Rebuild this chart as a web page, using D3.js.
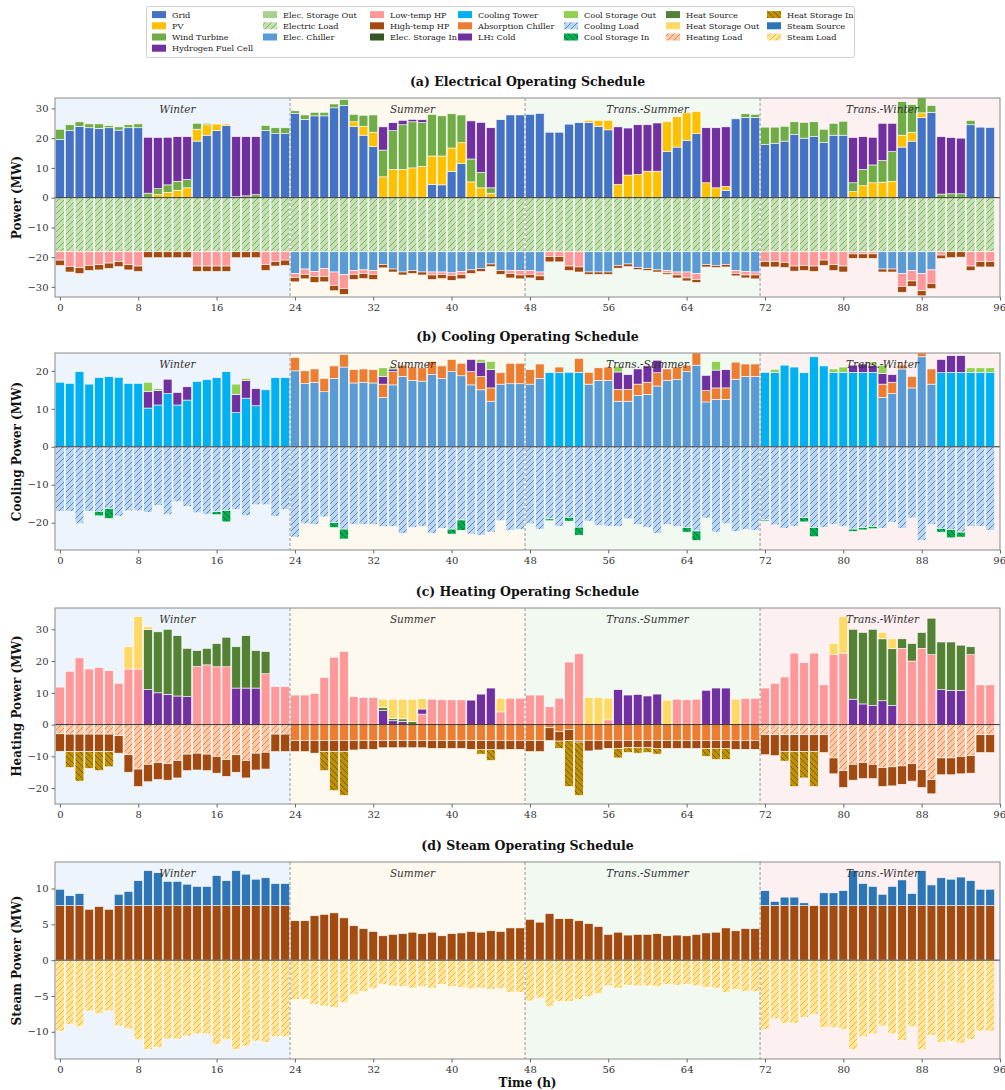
<!DOCTYPE html>
<html>
<head>
<meta charset="utf-8">
<script src="https://cdn.jsdelivr.net/npm/d3@7"></script>
<style>
  body { margin: 0; background: #fff; }
  svg { display: block; }
</style>
</head>
<body>
<svg id="chart" width="1005" height="1090"></svg>
<script>
// ---------------------------------------------------------------
// Hourly operating schedule of a multi-energy system, 4 typical days
// (96 hours: Winter, Summer, Trans.-Summer, Trans.-Winter). MW.
// Each array lists hours 0..95, one season per line.
// ---------------------------------------------------------------
const hours = d3.range(96);
const xTickValues = [0, 8, 16, 24, 32, 40, 48, 56, 64, 72, 80, 88, 96];
const seasonNames = ["Winter", "Summer", "Trans.-Summer", "Trans.-Winter"];
const seasonEdges = [-0.5, 23.5, 47.5, 71.5, 96];
const seasonLabelHour = [12, 36, 60, 84];

// ---- (a) electrical balance ----
const gridPower = [
  19.5,22.5,24.0,23.5,23.3,23.5,22.7,23.5,23.5, 0,0,0,0,0, 19.0,21.0,22.5,24.3, 0,0,0, 22.5,21.5,21.5,
  28.3,26.3,27.5,27.5,30.2,31.0, 24.0,21.0,17.2, 0,0,0,0,0, 4.5,4.3,8.8,11.5, 0,0,0, 26.2,27.8,27.8,
  28.0,28.3,22.0,22.0,24.7,25.2, 25.3,24.0,22.8, 0,0,0,0,0, 15.5,17.0,19.3,21.5, 0,0,2.5, 26.5,27.0,27.0,
  17.8,18.3,19.0,21.2,20.0,20.5,18.5,21.0,21.0, 0,0,0,0,0, 17.0,19.0,27.0,28.7, 0,0,0, 24.5,23.7,23.6
];
const pvPower = [
  0,0,0,0,0,0,0,0,0, 0,1.0,1.8,2.5,3.3, 4.0,3.5,2.3,0.5, 0,0,0, 0,0,0,
  0,0,0,0,0,0, 1.5,3.0,4.8, 7.0,9.5,9.5,10.0,10.5, 9.5,9.7,7.9,7.0, 5.3,3.3,1.5, 0,0,0,
  0,0,0,0,0,0, 0.7,2.0,3.2, 4.5,7.6,7.8,8.9,8.9, 10.0,10.2,9.2,7.5, 5.0,3.3,1.3, 0,0,0,
  0,0,0,0,0,0,0,0,0, 2.0,4.0,5.0,5.2,5.5, 4.0,3.0,1.5,0, 0,0,0, 0,0,0
];
const windPower = [
  3.5,2.0,1.5,1.3,1.5,0.7,1.1,1.0,1.3, 1.5,2.0,2.5,3.0,2.8, 2.0,0.5,0.2,0.2, 0.3,0.6,1.0, 1.8,2.0,2.0,
  0.9,1.5,1.2,1.2,1.3,2.0, 2.5,3.7,5.8, 9.0,13.0,15.0,15.5,14.7, 14.0,13.5,11.5,9.3, 7.7,5.2,1.8, 0,0,0,
  0,0,0,0,0,0, 0,0,0, 0,0,0,0,0, 0,0,0,0, 0,0,0, 0,1.2,1.0,
  5.9,5.4,5.0,4.3,5.3,5.0,4.5,4.0,4.7, 3.0,5.5,6.0,7.3,10.0, 11.3,9.3,5.5,2.3, 1.2,1.3,1.3, 1.5,0,0
];
const fuelCellPower = [
  0,0,0,0,0,0,0,0,0, 18.8,17.2,16.0,15.0,14.4, 0,0,0,0, 20.2,19.9,19.5, 0,0,0,
  0,0,0,0,0,0, 0,0,0, 7.8,2.7,1.5,0.8,1.0, 0,0,0,0, 12.8,16.8,20.2, 0,0,0,
  0,0,0,0,0,0, 0,0,0, 19.3,15.8,16.7,15.6,16.2, 0,0,0,0, 18.5,20.2,20.0, 0,0,0,
  0,0,0,0,0,0,0,0,0, 15.2,11.0,9.3,12.5,9.5, 0,0,0,0, 19.3,18.9,18.7, 0,0,0
];
const elecStorageOut = [
  0,0,0,0,0,0,0,0,0,0,0,0,0,0,0,0,0,0,0,0,0,0,0,0,
  0,0,0,0,0,0,0,0,0,0,0,0,0,0,0,0,0,0,0,0,0,0,0,0,
  0,0,0,0,0,0,0,0,0,0,0,0,0,0,0,0,0,0,0,0,0,0,0,0,
  0,0,0,0,0,0,0,0,0,0,0,0,0,0,0,0,0,0,0,0,0,0,0,0
];
const electricLoad = [
  18.2,18.2,18.2,18.2,18.2,18.2,18.2,18.2,18.2,18.2,18.2,18.2,18.2,18.2,18.2,18.2,18.2,18.2,18.2,18.2,18.2,18.2,18.2,18.2,
  18.2,18.2,18.2,18.2,18.2,18.2,18.2,18.2,18.2,18.2,18.2,18.2,18.2,18.2,18.2,18.2,18.2,18.2,18.2,18.2,18.2,18.2,18.2,18.2,
  18.2,18.2,18.2,18.2,18.2,18.2,18.2,18.2,18.2,18.2,18.2,18.2,18.2,18.2,18.2,18.2,18.2,18.2,18.2,18.2,18.2,18.2,18.2,18.2,
  18.2,18.2,18.2,18.2,18.2,18.2,18.2,18.2,18.2,18.2,18.2,18.2,18.2,18.2,18.2,18.2,18.2,18.2,18.2,18.2,18.2,18.2,18.2,18.2
];
const elecChillerPower = [
  0,0,0,0,0,0,0,0,0,0,0,0,0,0,0,0,0,0,0,0,0,0,0,0,
  7.3,5.8,6.6,5.6,6.8,7.6, 6.3,6.1,6.3, 4.3,5.8,6.8,6.3,6.8, 6.8,6.8,7.1,6.6, 6.1,5.6,4.1, 6.3,6.3,6.3,
  6.3,6.8,0,0,0,0, 6.8,6.8,6.8, 4.6,4.1,5.3,5.6,6.1, 6.3,6.8,6.8,7.3, 4.3,4.6,4.3, 6.3,6.6,6.8,
  0,0,0,0,0,0,0,0,0, 0,0,0, 5.8,5.8, 7.3,6.3,7.3,6.1, 0,0,0, 0,0,0
];
const lowTempHPPower = [
  2.8,5.0,5.3,4.6,4.3,3.8,3.3,4.3,4.8, 0,0,0,0,0, 4.8,4.8,4.8,4.8, 0,0,0, 4.3,3.3,2.8,
  1.3,1.8,1.7,2.7,4.5,4.7, 1.3,1.2,1.3, 0,0,0,0,0, 1.0,0.8,0.9,1.0, 0,0,0, 0,1.0,1.5,
  1.3,1.3,1.6,1.6,4.8,5.1, 0,0,0, 0,0,0,0,0, 0.8,1.0,2.0,2.0, 0,0,0, 1.0,1.2,1.0,
  3.3,3.3,3.6,4.8,4.6,4.8,2.8,4.3,4.8, 0.7,0.7,0.7,0,0, 4.3,3.5,5.8,4.5, 1.1,0,0, 4.8,3.3,3.3
];
const highTempHPPower = [
  1.8,1.8,2.0,1.7,1.8,1.8,1.7,1.8,1.8, 2.0,2.0,2.0,2.0,2.0, 1.8,1.8,1.8,1.8, 2.0,2.0,2.0, 2.0,1.5,1.8,
  1.5,1.5,2.0,1.8,1.8,2.0, 1.7,1.7,1.7, 1.1,1.0,1.0,1.0,1.0, 1.5,1.4,1.6,1.5, 1.2,1.0,0.9, 1.3,1.5,1.3,
  1.2,1.5,1.8,1.8,1.5,1.7, 0.8,0.8,0.8, 0.9,0.9,0.7,0.7,0.7, 0.5,1.0,1.0,1.0, 0.8,0.7,0.8, 0.8,1.0,1.3,
  1.8,1.8,1.7,1.7,1.7,1.8,1.8,2.0,2.0, 1.5,1.5,1.5,1.0,1.0, 2.0,1.8,1.7,1.8, 1.2,2.0,1.8, 1.5,1.8,1.8
];
const elecStorageIn = [
  0,0,0,0,0,0,0,0,0,0,0,0,0,0,0,0,0,0,0,0,0,0,0,0,
  0,0,0,0,0,0,0,0,0,0,0,0,0,0,0,0,0,0,0,0,0,0,0,0,
  0,0,0,0,0,0,0,0,0,0,0,0,0,0,0,0,0,0,0,0,0,0,0,0,
  0,0,0,0,0,0,0,0,0,0,0,0,0,0,0,0,0,0,0,0,0,0,0,0
];

// ---- (b) cooling balance ----
const coolingTower = [
  17.0,16.7,19.8,16.5,18.2,18.5,18.3,16.7,16.7, 10.2,11.0,14.0,11.0,12.3, 17.2,17.7,18.2,19.8, 9.0,12.8,10.8, 15.0,18.2,18.2,
  0,0,0,0,0,0,0,0,0,0,0,0,0,0,0,0,0,0,0,0,0,0,0,0,
  0,0,19.5,19.5,19.6,19.6, 0,0,0, 0,0,0,0,0, 0,0,0,0, 0,0,0, 0,0,0,
  19.6,19.6,21.5,21.0,19.5,23.7,21.3,19.6,19.6, 19.6,19.6,19.6, 0,0, 0,0,0,0, 19.5,19.6,19.6, 19.6,19.6,19.6
];
const elecChillerCool = [
  0,0,0,0,0,0,0,0,0,0,0,0,0,0,0,0,0,0,0,0,0,0,0,0,
  20.0,16.7,17.0,14.5,18.0,21.0, 16.8,17.0,16.8, 13.0,16.3,18.5,17.5,17.3, 19.0,18.0,19.8,18.7, 16.3,15.0,12.0, 16.5,16.6,16.6,
  16.5,18.0,0,0,0,0, 16.5,17.5,17.5, 12.0,12.0,13.5,13.8,16.0, 17.5,17.7,19.8,21.5, 11.8,12.5,12.5, 17.8,18.5,18.5,
  0,0,0,0,0,0,0,0,0, 0,0,0, 13.0,14.0, 20.5,15.5,23.7,16.5, 0,0,0, 0,0,0
];
const absorptionCool = [
  0,0,0,0,0,0,0,0,0,0,0,0,0,0,0,0,0,0,0,0,0,0,0,0,
  3.5,3.3,3.5,3.5,3.3,3.3, 3.5,3.5,3.5, 3.5,3.5,3.0,3.5,3.5, 3.5,3.3,3.2,3.3, 3.5,3.5,3.5, 3.0,5.4,5.4,
  3.8,3.8,0,1.5,0,3.7, 3.1,3.3,3.5, 3.1,3.1,3.0,3.2,3.5, 3.0,3.3,1.7,3.2, 3.0,3.0,3.0, 4.5,3.3,3.3,
  0,0,0,0,0,0,0,0,0, 0,0,0, 3.5,3.0, 1.0,3.0,1.0,4.0, 0,0,0, 0,0,0
];
const lh2Cold = [
  0,0,0,0,0,0,0,0,0, 4.3,3.8,3.8,3.3,3.5, 0,0,0,0, 4.8,4.7,4.5, 0,0,0,
  0,0,0,0,0,0, 0,0,0, 2.0,0.7,0,0,0, 0,0,0,0, 3.2,3.8,4.8, 0,0,0,
  0,0,0,0,0,0, 0,0,0, 4.6,3.9,4.0,4.3,3.3, 0,0,0,0, 4.0,4.7,4.8, 0,0,0,
  0,0,0,0,0,0,0,0,0, 1.9,2.2,1.9, 2.8,2.0, 0,0,0,0, 3.5,4.4,4.4, 0,0,0
];
const coolStorageOut = [
  0,0,0,0,0,0,0,0,0, 2.5,0.5,0,0,0, 0,0,0,0, 2.7,0.5,0, 0,0,0,
  0,0,0,0,0,0, 0,0,0, 2.3,0.5,0,0,0, 0,0,0,0, 0,0.7,2.2, 0,0,0,
  0,0,0,0,0,0, 0,0,0, 1.5,0,0,0,0, 0,0,0,0, 0,2.3,0, 0,0,0,
  0,0.8,0,0,0,0,0,0.9,1.4, 0,0,0.8, 2.2,0, 0,0,0,0, 0,0,0, 1.2,1.2,1.2
];
const coolingLoad = [
  17.0,17.0,20.3,17.0,17.0,16.3,18.3,16.9,16.9, 17.3,15.5,17.9,14.5,15.8, 17.4,17.8,17.1,16.8, 16.5,18.2,15.3, 15.3,18.3,16.5,
  23.8,20.3,20.5,18.5,20.0,21.7, 20.5,20.5,20.5, 21.0,21.0,22.8,21.3,21.0, 22.8,21.5,21.7,19.3, 23.0,23.3,22.5, 19.5,22.0,21.8,
  20.3,21.8,19.0,21.0,18.6,21.2, 19.6,20.8,21.0, 21.0,19.0,20.5,21.3,22.8, 20.5,21.0,21.3,22.2, 18.8,22.5,20.3, 22.3,21.8,22.0,
  19.3,20.6,21.5,21.0,18.7,21.3,21.3,20.5,21.0, 21.7,21.3,21.0, 21.5,19.9, 21.5,18.8,24.7,20.5, 21.5,21.8,22.5, 21.0,21.0,22.0
];
const coolStorageIn = [
  0,0,0,0,1.2,2.6,0,0,0, 0,0,0,0,0, 0,0,0.8,3.0, 0,0,0, 0,0,0,
  0,0,0,0,1.3,2.6, 0,0,0, 0,0,0,0,0, 0,0,1.3,2.7, 0,0,0, 0,0,0,
  0,0,0.5,0,1.0,2.1, 0,0,0, 0,0,0,0,0, 0,0,1.2,2.5, 0,0,0, 0,0,0,
  0.3,0,0,0,1.1,2.4,0,0,0, 0.6,0.6,0.6, 0,0, 0,0,0,0, 1.0,2.2,1.3, 0,0,0
];

// ---- (c) heating balance ----
const lowTempHPHeat = [
  11.8,16.8,21.0,17.5,18.0,17.0,13.0,17.5,17.5, 0,0,0,0,0, 18.3,18.8,18.2,18.2, 0,0,0, 16.0,12.0,12.0,
  9.3,9.3,9.8,14.8,21.2,23.0, 8.8,8.5,8.5, 0,0,0,0,3.3, 8.0,7.8,7.8,7.8, 0,0,0, 4.0,8.3,8.3,
  9.3,9.3,5.6,8.3,19.7,22.3, 0,0,1.5, 0,0,0,0,0, 0,8.0,7.8,8.0, 0,0,0, 0,8.3,8.3,
  11.5,13.0,15.0,22.5,19.5,22.5,12.5,22.0,22.5, 0,0,0,0,0, 24.0,20.0,24.0,22.0, 0,0,0, 22.0,12.5,12.5
];
const fuelCellHeat = [
  0,0,0,0,0,0,0,0,0, 11.0,10.0,9.5,9.0,8.8, 0,0,0,0, 11.5,11.5,11.5, 0,0,0,
  0,0,0,0,0,0, 0,0,0, 4.4,1.2,1.0,0,1.6, 0,0,0,0, 7.7,9.6,11.5, 0,0,0,
  0,0,0,0,0,0, 0,0,0, 11.0,9.3,9.5,9.0,9.6, 0,0,0,0, 10.8,11.5,11.5, 0,0,0,
  0,0,0,0,0,0,0,0,0, 8.0,6.5,6.0,7.5,6.0, 0,0,0,0, 11.0,10.8,10.8, 0,0,0
];
const heatSource = [
  0,0,0,0,0,0,0,0,0, 19.0,19.2,20.5,19.0,15.2, 5.0,5.2,7.3,9.3, 13.0,16.5,11.8, 7.0,0,0,
  0,0,0,0,0,0, 0,0,0, 1.0,0.8,0.8,1.0,0, 0,0,0,0, 0,0,0, 0,0,0,
  0,0,0,0,0,0,0,0,0,0,0,0,0,0,0,0,0,0,0,0,0,0,0,0,
  0,0,0,0,0,0,0,0,0, 22.0,22.5,24.0,19.5,18.0, 3.0,5.5,5.0,11.5, 15.0,15.2,14.2, 2.5,0,0
];
const heatStorageOut = [
  0,0,0,0,0,0,0,7.0,16.5, 0.8,0,0,0,0, 0,0,0,0, 0,0,0, 0,0,0,
  0,0,0,0,0,0, 0,0,0, 2.6,6.0,6.2,7.0,3.3, 0,0,0,0, 0,0,0, 4.2,0,0,
  0,0,0,0,0,0, 8.5,8.5,6.8, 0,0,0,0,0, 7.7,0,0,0, 0,0,0, 8.0,0,0,
  0,0,0,0,0,0,0,3.5,11.5, 0,0,0,2.0,3.0, 0,0,0,0, 0,0,0, 0,0,0
];
const heatingLoad = [
  2.9,3.0,3.0,3.0,3.0,3.0,3.5,9.5,14.0, 12.5,12.0,12.3,11.3,9.3, 9.0,9.3,10.0,11.0, 9.5,11.3,9.0, 8.7,3.0,3.0,
  0,0,0,0,0,0,0,0,0,0,0,0,0,0,0,0,0,0,0,0,0,0,0,0,
  0,0,0,0,0,0,0,0,0,0,0,0,0,0,0,0,0,0,0,0,0,0,0,0,
  3.2,3.2,3.2,3.2,3.2,3.2,3.2,10.5,14.5, 12.5,12.0,12.5,13.5,13.3, 13.0,12.3,14.2,17.3, 10.5,10.5,10.0, 9.8,3.2,3.2
];
const absorptionHeat = [
  0,0,0,0,0,0,0,0,0,0,0,0,0,0,0,0,0,0,0,0,0,0,0,0,
  5.0,5.0,5.0,5.0,5.0,5.0,5.0,5.0,5.0,5.0,5.0,5.0,5.0,5.0,5.0,5.0,5.0,5.0,5.0,5.0,5.0,5.0,5.0,5.0,
  5.0,5.0,1.0,2.2,1.5,5.0,5.0,5.0,5.0,5.0,5.0,5.0,5.0,5.0,5.0,5.0,5.0,5.0,5.0,5.0,5.0,5.0,5.0,5.0,
  0,0,0,0,0,0,0,0,0,0,0,0,0,0,0,0,0,0,0,0,0,0,0,0
];
const highTempHPHeat = [
  5.5,5.5,5.5,5.5,5.5,5.5,5.5,5.5,5.5, 5.5,5.3,5.2,5.5,5.2, 5.3,5.2,5.3,5.3, 5.5,5.5,5.3, 5.3,5.5,5.5,
  3.5,3.5,4.0,3.5,3.5,3.5, 3.0,2.8,2.8, 2.3,2.3,2.3,2.3,2.3, 2.5,2.5,2.5,2.5, 2.8,2.8,2.8, 2.9,2.8,2.8,
  3.5,3.5,4.0,3.0,3.5,0.5, 3.3,3.0,2.5, 2.5,2.3,2.3,2.3,2.5, 2.5,2.5,2.5,2.5, 2.5,2.5,2.5, 2.8,2.8,2.8,
  6.3,6.6,5.3,5.3,5.3,5.3,5.6,5.0,5.3, 5.0,5.0,4.5,6.0,6.0, 5.8,5.5,5.6,4.5, 5.3,5.3,5.5, 5.5,5.6,5.6
];
const heatStorageIn = [
  0,5.0,9.3,5.3,6.0,4.8,0,0,0, 0,0,0,0,0, 0,0,0,0, 0,0,0, 0,0,0,
  0,0,0,6.0,12.3,13.8, 0,0,0, 0,0,0,0,0, 0,0,0,0, 0,1.5,3.5, 0,0,0,
  0,0,0,2.3,14.5,16.8, 0,0,0, 3.0,1.5,1.7,1.5,1.8, 0,0,0,0, 2.5,3.5,3.5, 0,0,0,
  0,0,3.0,11.0,8.3,11.0,0,0,0, 0,0,0,0,0, 0,0,0,0, 0,0,0, 0,0,0
];

// ---- (d) steam balance ----
const highTempHPSteam = [
  7.6,7.6,7.6,7.1,7.5,7.1,7.6,7.6,7.6, 7.6,7.6,7.6,7.6,7.6, 7.6,7.6,7.6,7.6, 7.6,7.6,7.6, 7.6,7.6,7.6,
  5.5,5.5,6.2,6.4,6.6,5.9, 4.8,4.4,4.0, 3.4,3.6,3.7,3.9,3.7, 3.9,3.4,3.7,3.8, 4.0,3.9,4.1, 4.0,4.5,4.5,
  5.7,5.3,6.5,5.8,5.8,5.5, 5.1,4.7,3.6, 3.9,3.5,3.6,3.6,3.7, 3.4,3.5,3.4,3.6, 3.8,3.9,4.5, 4.1,4.4,4.4,
  7.6,7.6,7.6,7.6,7.6,7.6,7.6,7.6,7.6, 7.6,7.6,7.6,7.6,7.6, 7.6,7.6,7.6,7.6, 7.6,7.6,7.6, 7.6,7.6,7.6
];
const steamSource = [
  2.3,1.4,1.7,0,0,0,1.6,2.0,3.5, 4.9,4.6,3.4,3.4,3.0, 2.7,2.7,4.2,3.5, 4.9,4.4,3.7, 3.9,3.1,3.1,
  0,0,0,0,0,0,0,0,0,0,0,0,0,0,0,0,0,0,0,0,0,0,0,0,
  0,0,0,0,0,0,0,0,0,0,0,0,0,0,0,0,0,0,0,0,0,0,0,0,
  2.1,0.6,1.2,1.2,0.4,0,1.8,1.8,2.1, 4.9,3.1,2.7,1.6,2.7, 3.6,1.7,4.9,2.9, 3.9,3.7,4.0, 3.5,2.3,2.3
];
const steamLoad = [
  9.9,9.0,9.3,7.1,7.5,7.1,9.2,9.6,11.1, 12.5,12.2,11.0,11.0,10.6, 10.3,10.3,11.8,11.1, 12.5,12.0,11.3, 11.5,10.7,10.7,
  5.5,5.5,6.2,6.4,6.6,5.9, 4.8,4.4,4.0, 3.4,3.6,3.7,3.9,3.7, 3.9,3.4,3.7,3.8, 4.0,3.9,4.1, 4.0,4.5,4.5,
  5.7,5.3,6.5,5.8,5.8,5.5, 5.1,4.7,3.6, 3.9,3.5,3.6,3.6,3.7, 3.4,3.5,3.4,3.6, 3.8,3.9,4.5, 4.1,4.4,4.4,
  9.7,8.2,8.8,8.8,8.0,7.6,9.4,9.4,9.7, 12.5,10.7,10.3,9.2,10.3, 11.2,9.3,12.5,10.5, 11.5,11.3,11.6, 11.1,9.9,9.9
];

// ---------------------------------------------------------------
// Styles
// ---------------------------------------------------------------
const FONT = "'DejaVu Serif', 'Liberation Serif', serif";
const svg = d3.select("#chart");
const defs = svg.append("defs");

function hatch(id, bg, ink, backward) {
  const s = 6;
  const p = defs.append("pattern").attr("id", id)
    .attr("patternUnits", "userSpaceOnUse").attr("width", s).attr("height", s);
  p.append("rect").attr("width", s).attr("height", s).attr("fill", bg);
  const d = backward
    ? `M0,0 L${s},${s} M-2,${s - 2} L2,${s + 2} M${s - 2},-2 L${s + 2},2`
    : `M0,${s} L${s},0 M-2,2 L2,-2 M${s - 2},${s + 2} L${s + 2},${s - 2}`;
  p.append("path").attr("d", d).attr("stroke", ink).attr("stroke-width", 0.9).attr("fill", "none");
  return `url(#${id})`;
}

const C = {
  grid: "#4472c4", pv: "#ffc000", wind: "#70ad47", fuelCell: "#7030a0",
  elecOut: "#a9d18e", elecLoad: hatch("hElecLoad", "#c5e0b4", "#6fae4a", false),
  elecChiller: "#5b9bd5", lowHP: "#ff9999", highHP: "#a24a10", elecIn: "#375623",
  tower: "#00b0f0", absorption: "#ed7d31", lh2: "#7030a0", coolOut: "#92d050",
  coolLoad: hatch("hCoolLoad", "#bdd7ee", "#4a7fc6", false),
  coolIn: hatch("hCoolIn", "#00b050", "#005c2c", true),
  heatSource: "#548235", heatOut: "#ffd966",
  heatLoad: hatch("hHeatLoad", "#f8cbad", "#ed7d31", false),
  heatIn: hatch("hHeatIn", "#bf9000", "#6e5200", true),
  steamSource: "#2e75b6",
  steamLoad: hatch("hSteamLoad", "#ffe699", "#f2ae3a", false)
};
const seasonFills = ["#edf4fb", "#fef9ee", "#f1f9f1", "#fcf0f1"];

// ---------------------------------------------------------------
// Panels
// ---------------------------------------------------------------
const x = d3.scaleLinear().domain([-0.5, 96]).range([55, 1000]);
const barW = (x(1) - x(0)) * 0.9;

const panels = [
  {
    title: "(a) Electrical Operating Schedule", ylabel: "Power (MW)",
    top: 98, bottom: 297, domain: [-33.4, 33.5], ticks: [-30, -20, -10, 0, 10, 20, 30],
    series: [
      { key: "Grid", values: gridPower, sign: 1, fill: C.grid },
      { key: "PV", values: pvPower, sign: 1, fill: C.pv },
      { key: "Wind Turbine", values: windPower, sign: 1, fill: C.wind },
      { key: "Hydrogen Fuel Cell", values: fuelCellPower, sign: 1, fill: C.fuelCell },
      { key: "Elec. Storage Out", values: elecStorageOut, sign: 1, fill: C.elecOut },
      { key: "Electric Load", values: electricLoad, sign: -1, fill: C.elecLoad },
      { key: "Elec. Chiller", values: elecChillerPower, sign: -1, fill: C.elecChiller },
      { key: "Low-temp HP", values: lowTempHPPower, sign: -1, fill: C.lowHP },
      { key: "High-temp HP", values: highTempHPPower, sign: -1, fill: C.highHP },
      { key: "Elec. Storage In", values: elecStorageIn, sign: -1, fill: C.elecIn }
    ]
  },
  {
    title: "(b) Cooling Operating Schedule", ylabel: "Cooling Power (MW)",
    top: 353, bottom: 550, domain: [-27.2, 24.7], ticks: [-20, -10, 0, 10, 20],
    series: [
      { key: "Cooling Tower", values: coolingTower, sign: 1, fill: C.tower },
      { key: "Elec. Chiller", values: elecChillerCool, sign: 1, fill: C.elecChiller },
      { key: "Absorption Chiller", values: absorptionCool, sign: 1, fill: C.absorption },
      { key: "LH₂ Cold", values: lh2Cold, sign: 1, fill: C.lh2 },
      { key: "Cool Storage Out", values: coolStorageOut, sign: 1, fill: C.coolOut },
      { key: "Cooling Load", values: coolingLoad, sign: -1, fill: C.coolLoad },
      { key: "Cool Storage In", values: coolStorageIn, sign: -1, fill: C.coolIn }
    ]
  },
  {
    title: "(c) Heating Operating Schedule", ylabel: "Heating Power (MW)",
    top: 608, bottom: 804, domain: [-25.0, 36.7], ticks: [-20, -10, 0, 10, 20, 30],
    series: [
      { key: "Low-temp HP", values: lowTempHPHeat, sign: 1, fill: C.lowHP },
      { key: "Hydrogen Fuel Cell", values: fuelCellHeat, sign: 1, fill: C.fuelCell },
      { key: "Heat Source", values: heatSource, sign: 1, fill: C.heatSource },
      { key: "Heat Storage Out", values: heatStorageOut, sign: 1, fill: C.heatOut },
      { key: "Heating Load", values: heatingLoad, sign: -1, fill: C.heatLoad },
      { key: "Absorption Chiller", values: absorptionHeat, sign: -1, fill: C.absorption },
      { key: "High-temp HP", values: highTempHPHeat, sign: -1, fill: C.highHP },
      { key: "Heat Storage In", values: heatStorageIn, sign: -1, fill: C.heatIn }
    ]
  },
  {
    title: "(d) Steam Operating Schedule", ylabel: "Steam Power (MW)",
    top: 862, bottom: 1059, domain: [-13.8, 13.7], ticks: [-10, -5, 0, 5, 10],
    series: [
      { key: "High-temp HP", values: highTempHPSteam, sign: 1, fill: C.highHP },
      { key: "Steam Source", values: steamSource, sign: 1, fill: C.steamSource },
      { key: "Steam Load", values: steamLoad, sign: -1, fill: C.steamLoad }
    ]
  }
];

panels.forEach((p, pi) => {
  const y = d3.scaleLinear().domain(p.domain).range([p.bottom, p.top]);
  const g = svg.append("g");
  const clipId = "clip" + pi;
  defs.append("clipPath").attr("id", clipId).append("rect")
    .attr("x", x(-0.5)).attr("y", p.top).attr("width", x(96) - x(-0.5)).attr("height", p.bottom - p.top);

  // season shading
  g.append("g").selectAll("rect").data(seasonNames).join("rect")
    .attr("x", (d, i) => x(seasonEdges[i]))
    .attr("width", (d, i) => x(seasonEdges[i + 1]) - x(seasonEdges[i]))
    .attr("y", p.top).attr("height", p.bottom - p.top)
    .attr("fill", (d, i) => seasonFills[i]);

  // stacked bars: supplies above zero, consumptions below
  const table = hours.map(h => {
    const row = { hour: h };
    p.series.forEach((s, i) => { row["s" + i] = s.sign * s.values[h]; });
    return row;
  });
  const stacked = d3.stack().keys(p.series.map((s, i) => "s" + i))
    .offset(d3.stackOffsetDiverging)(table);
  const bars = g.append("g").attr("clip-path", `url(#${clipId})`);
  stacked.forEach((layer, i) => {
    bars.append("g").selectAll("rect")
      .data(layer.filter(d => d[1] !== d[0]))
      .join("rect")
      .attr("x", d => x(d.data.hour) - barW / 2)
      .attr("width", barW)
      .attr("y", d => y(Math.max(d[0], d[1])))
      .attr("height", d => Math.abs(y(d[0]) - y(d[1])))
      .attr("fill", p.series[i].fill)
      .attr("stroke", "#ffffff").attr("stroke-width", 0.6);
  });

  // season dividers
  g.append("g").selectAll("line").data(seasonEdges.slice(1, 4)).join("line")
    .attr("x1", d => x(d)).attr("x2", d => x(d))
    .attr("y1", p.top).attr("y2", p.bottom)
    .attr("stroke", "#8c8c8c").attr("stroke-width", 0.9).attr("stroke-dasharray", "3,2");

  // zero line
  g.append("line").attr("x1", x(-0.5)).attr("x2", x(96))
    .attr("y1", y(0)).attr("y2", y(0)).attr("stroke", "#333").attr("stroke-width", 1);

  // season labels
  g.append("g").selectAll("text").data(seasonNames).join("text")
    .attr("x", (d, i) => x(seasonLabelHour[i])).attr("y", p.top + 15)
    .attr("text-anchor", "middle").attr("font-family", FONT)
    .attr("font-style", "italic").attr("font-size", 10.5).attr("fill", "#333")
    .text(d => d);

  // frame
  g.append("rect").attr("x", x(-0.5)).attr("y", p.top)
    .attr("width", x(96) - x(-0.5)).attr("height", p.bottom - p.top)
    .attr("fill", "none").attr("stroke", "#8a8a8a").attr("stroke-width", 1);

  // axes
  const yAxis = g.append("g").attr("transform", `translate(${x(-0.5)},0)`)
    .call(d3.axisLeft(y).tickValues(p.ticks).tickSize(3.5).tickPadding(3));
  const xAxis = g.append("g").attr("transform", `translate(0,${p.bottom})`)
    .call(d3.axisBottom(x).tickValues(xTickValues).tickSize(3.5).tickPadding(3));
  [yAxis, xAxis].forEach(a => {
    a.select(".domain").remove();
    a.selectAll(".tick line").attr("stroke", "#666");
    a.selectAll(".tick text").attr("font-family", FONT).attr("font-size", 10).attr("fill", "#333");
  });
  // keep the last hour label inside the page edge
  xAxis.selectAll(".tick text").filter(d => d === 96).attr("text-anchor", "end").attr("dx", "0.55em");

  // title and y label
  svg.append("text").attr("x", (x(-0.5) + x(96)) / 2).attr("y", p.top - 12)
    .attr("text-anchor", "middle").attr("font-family", FONT)
    .attr("font-weight", "bold").attr("font-size", 12.5).attr("fill", "#111")
    .text(p.title);
  svg.append("text")
    .attr("transform", `translate(17,${(p.top + p.bottom) / 2}) rotate(-90)`)
    .attr("text-anchor", "middle").attr("dominant-baseline", "central")
    .attr("font-family", FONT).attr("font-weight", "bold").attr("font-size", 12).attr("fill", "#111")
    .text(p.ylabel);
});

svg.append("text").attr("x", (x(-0.5) + x(96)) / 2).attr("y", 1087)
  .attr("text-anchor", "middle").attr("font-family", FONT)
  .attr("font-weight", "bold").attr("font-size", 12).attr("fill", "#111")
  .text("Time (h)");

// ---------------------------------------------------------------
// Legend (7 columns)
// ---------------------------------------------------------------
const legendColumns = [
  [["Grid", C.grid], ["PV", C.pv], ["Wind Turbine", C.wind], ["Hydrogen Fuel Cell", C.fuelCell]],
  [["Elec. Storage Out", C.elecOut], ["Electric Load", C.elecLoad], ["Elec. Chiller", C.elecChiller]],
  [["Low-temp HP", C.lowHP], ["High-temp HP", C.highHP], ["Elec. Storage In", C.elecIn]],
  [["Cooling Tower", C.tower], ["Absorption Chiller", C.absorption], ["LH₂ Cold", C.lh2]],
  [["Cool Storage Out", C.coolOut], ["Cooling Load", C.coolLoad], ["Cool Storage In", C.coolIn]],
  [["Heat Source", C.heatSource], ["Heat Storage Out", C.heatOut], ["Heating Load", C.heatLoad]],
  [["Heat Storage In", C.heatIn], ["Steam Source", C.steamSource], ["Steam Load", C.steamLoad]]
];
const legendColX = [152, 263, 370, 458, 564, 666, 767];
const legend = svg.append("g");
legend.append("rect").attr("x", 146.5).attr("y", 6.5).attr("width", 708).attr("height", 51)
  .attr("rx", 2).attr("fill", "#fff").attr("stroke", "#d0d0d0").attr("stroke-width", 1);
legendColumns.forEach((col, ci) => {
  col.forEach(([label, fill], ri) => {
    const cy = 14.6 + ri * 11.2;
    legend.append("rect").attr("x", legendColX[ci]).attr("y", cy - 3.5)
      .attr("width", 14).attr("height", 7).attr("fill", fill);
    legend.append("text").attr("x", legendColX[ci] + 20).attr("y", cy)
      .attr("dominant-baseline", "central").attr("font-family", FONT)
      .attr("font-size", 8.2).attr("fill", "#222").text(label);
  });
});
</script>
</body>
</html>
